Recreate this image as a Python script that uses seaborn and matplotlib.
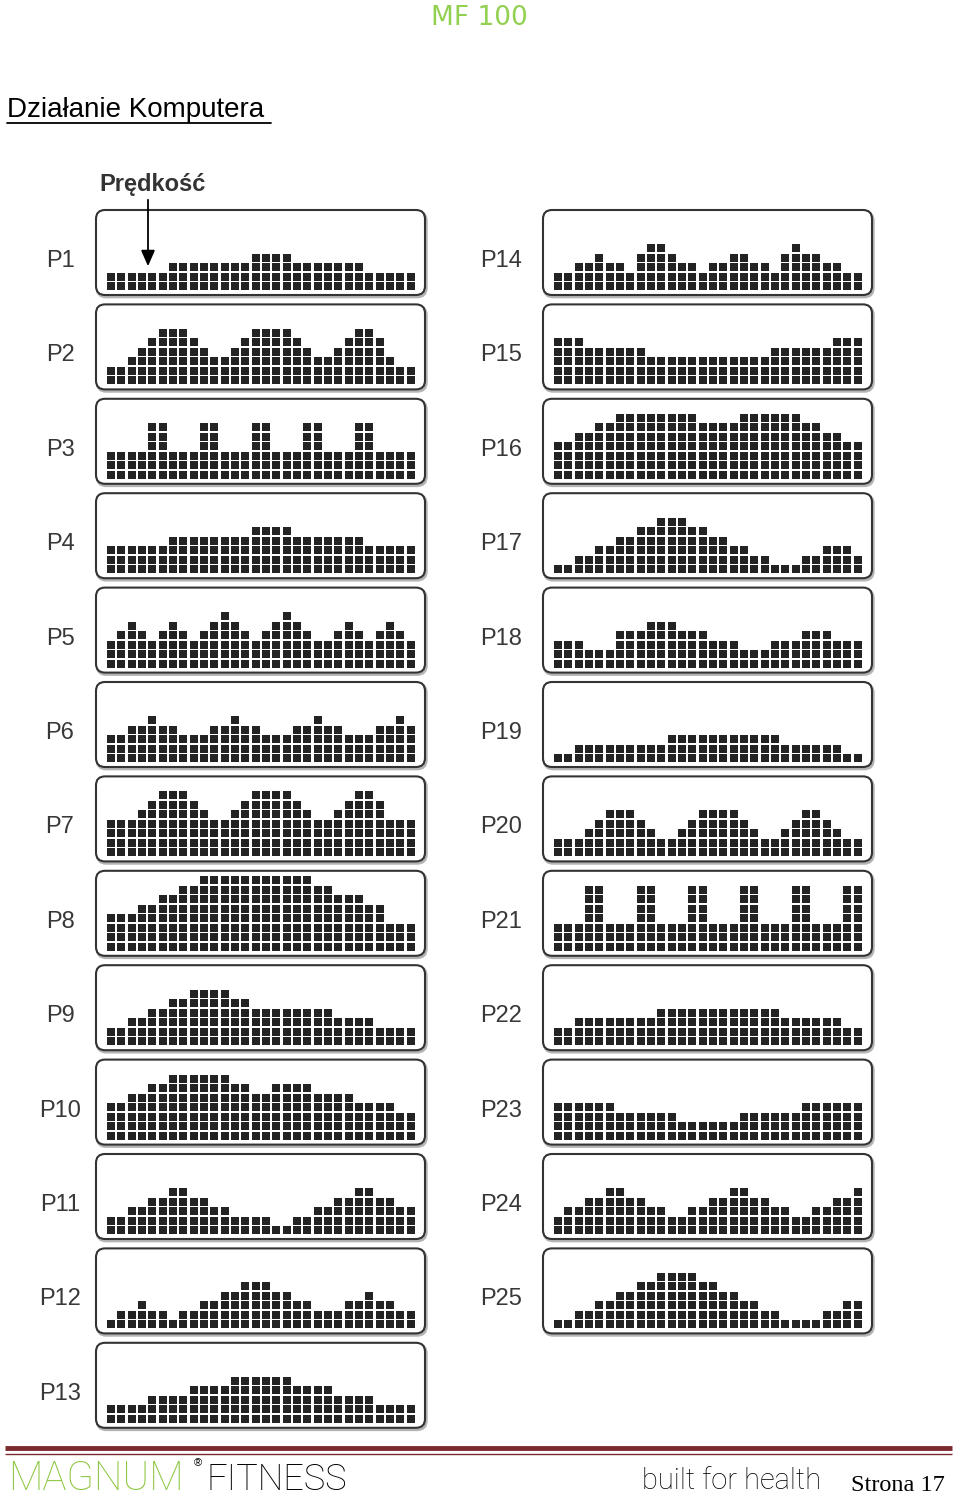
import numpy as np
import pandas as pd
import matplotlib
matplotlib.use("Agg")
import matplotlib.pyplot as plt
import seaborn as sns
from matplotlib.patches import FancyBboxPatch

sns.set_style("white")
plt.rcParams["font.family"] = ["Liberation Sans", "DejaVu Sans"]

# ---------------- data: 25 speed profiles, 30 segments each ----------------
labels = [f"P{i}" for i in range(1, 26)]

P1 = [2,2,2,2,2,2,3,3,3,3,3,3,3,3,4,4,4,4,3,3,3,3,3,3,3,2,2,2,2,2]
P2 = [2,2,3,4,5,6,6,6,5,4,3,3,4,5,6,6,6,6,5,4,3,3,4,5,6,6,5,3,2,2]
P3 = [3,3,3,3,6,6,3,3,3,6,6,3,3,3,6,6,3,3,3,6,6,3,3,3,6,6,3,3,3,3]
P4 = [3,3,3,3,3,3,4,4,4,4,4,4,4,4,5,5,5,5,4,4,4,4,4,4,4,3,3,3,3,3]
P5 = [3,4,5,4,3,4,5,4,3,4,5,6,5,4,3,4,5,6,5,4,3,3,4,5,4,3,4,5,4,3]
P6 = [3,3,4,4,5,4,4,3,3,3,4,4,5,4,4,3,3,3,4,4,5,4,4,3,3,3,4,4,5,4]
P7 = [4,4,4,5,6,7,7,7,6,5,4,4,5,6,7,7,7,7,6,5,4,4,5,6,7,7,6,4,4,4]
P8 = [4,4,4,5,5,6,6,7,7,8,8,8,8,8,8,8,8,8,8,8,7,7,6,6,6,5,5,3,3,3]
P9 = [2,2,3,3,4,4,5,5,6,6,6,6,5,5,4,4,4,4,4,4,4,4,3,3,3,3,2,2,2,2]
P10 = [4,4,5,5,6,6,7,7,7,7,7,7,6,6,5,5,6,6,6,6,5,5,5,5,4,4,4,4,3,3]
P11 = [2,2,3,3,4,4,5,5,4,4,3,3,2,2,2,2,1,1,2,2,3,3,4,4,5,5,4,4,3,3]
P12 = [1,2,2,3,2,2,1,2,2,3,3,4,4,5,5,5,4,4,3,3,2,2,2,3,3,4,3,3,2,2]
P13 = [2,2,2,2,3,3,3,3,4,4,4,4,5,5,5,5,5,5,4,4,4,4,3,3,3,3,2,2,2,2]
P14 = [2,2,3,3,4,3,3,2,4,5,5,4,3,3,2,3,3,4,4,3,3,2,4,5,4,4,3,3,2,2]
P15 = [5,5,5,4,4,4,4,4,4,3,3,3,3,3,3,3,3,3,3,3,3,4,4,4,4,4,4,5,5,5]
P16 = [4,4,5,5,6,6,7,7,7,7,7,7,7,7,6,6,6,6,7,7,7,7,7,7,6,6,5,5,4,4]
P17 = [1,1,2,2,3,3,4,4,5,5,6,6,6,5,5,4,4,3,3,2,2,1,1,1,2,2,3,3,3,2]
P18 = [3,3,3,2,2,2,4,4,4,5,5,5,4,4,4,3,3,3,2,2,2,3,3,3,4,4,4,3,3,3]
P19 = [1,1,2,2,2,2,2,2,2,2,2,3,3,3,3,3,3,3,3,3,3,3,2,2,2,2,2,2,1,1]
P20 = [2,2,2,3,4,5,5,5,4,3,2,2,3,4,5,5,5,5,4,3,2,2,3,4,5,5,4,3,2,2]
P21 = [3,3,3,7,7,3,3,3,7,7,3,3,3,7,7,3,3,3,7,7,3,3,3,7,7,3,3,3,7,7]
P22 = [2,2,3,3,3,3,3,3,3,3,4,4,4,4,4,4,4,4,4,4,4,4,3,3,3,3,3,3,2,2]
P23 = [4,4,4,4,4,4,3,3,3,3,3,3,2,2,2,2,2,2,3,3,3,3,3,3,4,4,4,4,4,4]
P24 = [2,3,3,4,4,5,5,4,4,3,3,2,2,3,3,4,4,5,5,4,4,3,3,2,2,3,3,4,4,5]
P25 = [1,1,2,2,3,3,4,4,5,5,6,6,6,6,5,5,4,4,3,3,2,2,1,1,1,1,2,2,3,3]

profiles = [P1, P2, P3, P4, P5, P6, P7, P8, P9, P10, P11, P12, P13,
            P14, P15, P16, P17, P18, P19, P20, P21, P22, P23, P24, P25]

records = []
for lab, heights in zip(labels, profiles):
    for seg, h in enumerate(heights):
        for lev in range(1, h + 1):
            records.append((lab, seg, lev))
df = pd.DataFrame(records, columns=["profile", "segment", "level"])

# ---------------- figure ----------------
W, H = 960, 1498
fig = plt.figure(figsize=(W / 100, H / 100), dpi=100)
bg = fig.add_axes([0, 0, 1, 1])
bg.set_xlim(0, W)
bg.set_ylim(H, 0)
bg.axis("off")


def fig_rect(x, y, w, h):
    return [x / W, 1 - (y + h) / H, w / W, h / H]


col_x = [96, 543]
label_x = [60, 501]
top0, pitch, box_h, box_w = 210, 94.4, 85, 329
x_unit, y_unit = 10.33, 9.5

for k, lab in enumerate(labels):
    col = 0 if k < 13 else 1
    r = k if k < 13 else k - 13
    x0 = col_x[col]
    y0 = top0 + pitch * r

    # LCD frame
    shadow = FancyBboxPatch((x0 + 1.2, y0 + 1.8), box_w, box_h,
                            boxstyle="round,pad=0,rounding_size=9",
                            facecolor="none", edgecolor="#b4b4b4", lw=2.2, zorder=1)
    frame = FancyBboxPatch((x0, y0), box_w, box_h,
                           boxstyle="round,pad=0,rounding_size=9",
                           facecolor="white", edgecolor="#333333", lw=1.5, zorder=1.5)
    bg.add_patch(shadow)
    bg.add_patch(frame)
    bg.text(label_x[col], y0 + 51, lab, ha="center", va="center",
            fontsize=17, color="#383838", zorder=3)

    ax = fig.add_axes(fig_rect(x0, y0, box_w, box_h))
    ax.set_zorder(2)
    ax.patch.set_alpha(0)
    sub = df[df["profile"] == lab]
    sns.scatterplot(data=sub, x="segment", y="level", marker="s", s=31,
                    color="#232323", linewidth=0, legend=False, ax=ax)
    xa = -(111 - 96) / x_unit
    ax.set_xlim(xa, xa + box_w / x_unit)
    yb = 1 - 9 / y_unit
    ax.set_ylim(yb, yb + box_h / y_unit)
    ax.axis("off")

# ---------------- header ----------------
bg.text(479, 18, "MF 100", ha="center", va="center", fontsize=19,
        color="#92d050", family="DejaVu Sans")
bg.text(7, 117, "Działanie Komputera ", ha="left", va="baseline",
        fontsize=20, color="black")
bg.plot([7, 271], [122.5, 122.5], color="black", lw=1.3)

bg.text(99, 184, "Prędkość", ha="left", va="center", fontsize=17,
        fontweight="bold", color="#333333")
bg.annotate("", xy=(148, 269), xytext=(148, 197),
            arrowprops=dict(arrowstyle="-|>,head_length=0.8,head_width=0.35",
                            color="black", lw=1.3, mutation_scale=12),
            zorder=5)

# ---------------- footer ----------------
bg.plot([5, 952], [1448, 1448], color="#7a2b30", lw=3.5, solid_capstyle="butt")
bg.plot([5, 952], [1453.5, 1453.5], color="#7a2b30", lw=1.0, solid_capstyle="butt")
bg.text(8, 1490, "MAGNUM", ha="left", va="baseline", fontsize=29,
        color="#8cc63e", family="Roboto", fontweight="light")
bg.text(194, 1466, "®", ha="left", va="baseline", fontsize=8, color="black")
bg.text(206, 1490, "FITNESS", ha="left", va="baseline", fontsize=26,
        color="black", family="Roboto", fontweight="light")
bg.text(642, 1489, "built for health", ha="left", va="baseline", fontsize=21,
        color="black", family="Roboto", fontweight="light")
bg.text(851, 1491, "Strona 17", ha="left", va="baseline", fontsize=17.5,
        color="black", family="Liberation Serif")

fig.savefig("out.png", dpi=100)
